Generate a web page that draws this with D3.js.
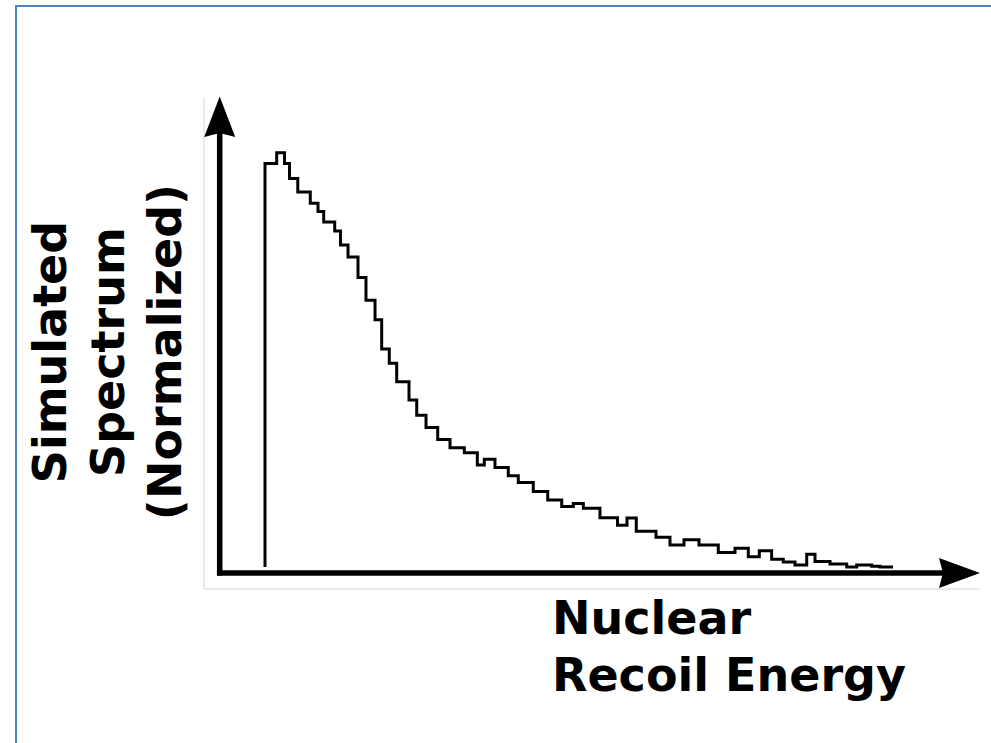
<!DOCTYPE html>
<html>
<head>
<meta charset="utf-8">
<script src="https://cdn.jsdelivr.net/npm/d3@7"></script>
<style>
  html, body { margin: 0; padding: 0; background: #ffffff; }
  svg { display: block; }
  text { font-family: "DejaVu Sans", sans-serif; font-weight: bold; fill: #000; }
</style>
</head>
<body>
<script>
// Histogram bin edges (recoil energy, arbitrary units) and normalized counts per bin
const binEdges = [0, 1.86, 3.11, 3.90, 5.22, 7.21, 8.44, 9.35, 11.10, 12.02,
  13.22, 14.81, 16.08, 17.52, 18.58, 19.79, 20.97, 22.93, 24.16, 25.64,
  27.50, 29.46, 31.74, 33.81, 34.92, 36.62, 38.74, 40.33, 42.72, 45.02,
  47.25, 49.09, 50.69, 53.34, 56.13, 57.64, 59.12, 62.26, 64.49, 66.72,
  69.11, 72.18, 74.84, 76.96, 78.71, 80.68, 82.53, 84.39, 86.26, 87.58,
  89.97, 92.63, 94.22, 96.61, 97.93, 100];
const binCounts = [0.974, 1.000, 0.974, 0.938, 0.905, 0.878, 0.858, 0.833, 0.811, 0.777,
  0.748, 0.699, 0.644, 0.597, 0.526, 0.492, 0.447, 0.403, 0.366, 0.337,
  0.308, 0.288, 0.276, 0.246, 0.260, 0.240, 0.220, 0.204, 0.182, 0.162,
  0.146, 0.153, 0.142, 0.119, 0.101, 0.118, 0.086, 0.072, 0.053, 0.066,
  0.053, 0.035, 0.045, 0.025, 0.039, 0.019, 0.012, 0.005, 0.031, 0.013,
  0.007, 0.000, 0.005, 0.002, 0.000];
const yLabelLines = ["Simulated", "Spectrum", "(Normalized)"];
const xLabelLines = ["Nuclear", "Recoil Energy"];

const W = 991, H = 743;
const svg = d3.select("body").append("svg").attr("width", W).attr("height", H);

// page frame (top and left edges)
svg.append("path")
  .attr("d", "M16,743 L16,6 L991,6")
  .attr("fill", "none").attr("stroke", "#4f81bd").attr("stroke-width", 2);

// light frame of the plot picture
svg.append("path")
  .attr("d", "M204,97 L204,589 L980,589")
  .attr("fill", "none").attr("stroke", "#d6d6d6").attr("stroke-width", 1);

const x = d3.scaleLinear().domain([0, 100]).range([265, 893]);
const y = d3.scaleLinear().domain([0, 1]).range([567, 152.7]);

// step outline of the histogram
const pts = [[binEdges[0], 0]];
binCounts.forEach((c, i) => { pts.push([binEdges[i], c]); });
pts.push([binEdges[binEdges.length - 1], binCounts[binCounts.length - 1]]);

const line = d3.line()
  .x(d => x(d[0]))
  .y(d => y(d[1]))
  .curve(d3.curveStepAfter);

svg.append("path")
  .datum(pts)
  .attr("d", line)
  .attr("fill", "none")
  .attr("stroke", "#000")
  .attr("stroke-width", 3)
  .attr("stroke-linejoin", "miter");

// axes with arrowheads
const ax = 219.7, ay = 573;
svg.append("line")
  .attr("x1", ax).attr("y1", 130).attr("x2", ax).attr("y2", ay + 2.5)
  .attr("stroke", "#000").attr("stroke-width", 5.5);
svg.append("line")
  .attr("x1", ax - 2.75).attr("y1", ay).attr("x2", 945).attr("y2", ay)
  .attr("stroke", "#000").attr("stroke-width", 5.5);
svg.append("path")
  .attr("d", `M${ax},96.5 L${ax + 15.5},137 L${ax},133 L${ax - 15.5},137 Z`)
  .attr("fill", "#000");
svg.append("path")
  .attr("d", `M980,${ay} L939,${ay + 15} L943,${ay} L939,${ay - 15} Z`)
  .attr("fill", "#000");

// axis titles
const fs = 46;
const yLabel = svg.append("text")
  .attr("transform", "translate(0,352) rotate(-90)")
  .attr("text-anchor", "middle")
  .style("font-size", fs + "px");
yLabelLines.forEach((t, i) => {
  yLabel.append("tspan").attr("x", 0).attr("y", 66 + i * 57.5).text(t);
});

const xLabel = svg.append("text").style("font-size", fs + "px");
xLabelLines.forEach((t, i) => {
  xLabel.append("tspan").attr("x", 552).attr("y", 634 + i * 57).text(t);
});
</script>
</body>
</html>
